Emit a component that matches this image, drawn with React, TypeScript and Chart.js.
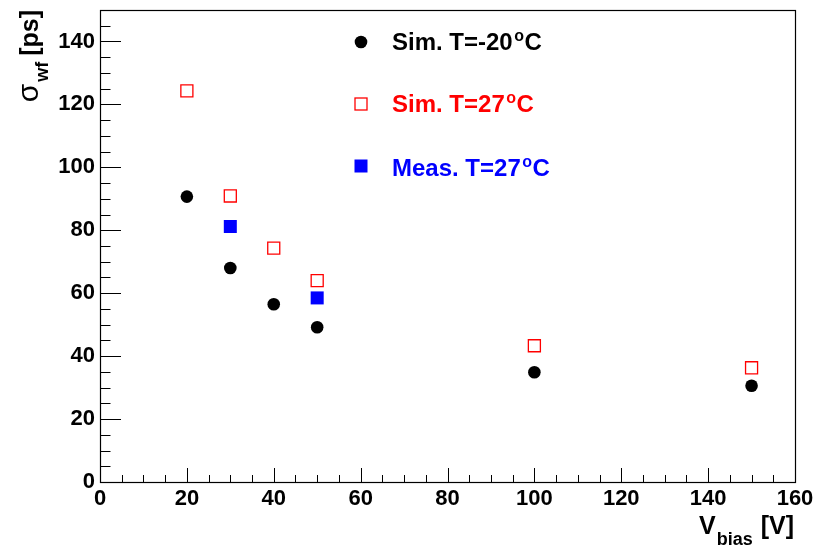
import React, { useEffect, useRef } from "react";
import { Chart, registerables } from "chart.js";

Chart.register(...registerables);

const vbias20 = [20, 30, 40, 50, 100, 150];
const simCold = [90.7, 68.0, 56.5, 49.2, 34.9, 30.6];
const vbias27 = [20, 30, 40, 50, 100, 150];
const simWarm = [124.3, 90.9, 74.3, 64.0, 43.3, 36.3];
const vbiasMeas = [30, 50];
const measWarm = [81.2, 58.5];

const xTicks = [0, 20, 40, 60, 80, 100, 120, 140, 160];
const yTicks = [0, 20, 40, 60, 80, 100, 120, 140];

const legendNames = ["Sim. T=-20", "Sim. T=27", "Meas. T=27"];
const legendColors = ["#000000", "#ff0000", "#0000ff"];

const FONT = "Liberation Sans, Arial, Helvetica, sans-serif";

const decorPlugin = {
  id: "rootDecor",
  afterDraw(chart: any) {
    const ctx = chart.ctx as CanvasRenderingContext2D;
    const area = chart.chartArea;
    const xs = chart.scales.x;
    const ys = chart.scales.y;
    ctx.save();
    // frame
    ctx.strokeStyle = "#000";
    ctx.lineWidth = 1.2;
    ctx.strokeRect(Math.round(area.left) + 0.5, Math.round(area.top) + 0.5,
      Math.round(area.right - area.left), Math.round(area.bottom - area.top));
    // ticks (inside)
    ctx.lineWidth = 1;
    ctx.beginPath();
    for (let v = xs.min; v <= xs.max + 1e-6; v += 5) {
      const px = Math.round(xs.getPixelForValue(v)) + 0.5;
      const len = v % 20 === 0 ? 14 : 7;
      ctx.moveTo(px, area.bottom);
      ctx.lineTo(px, area.bottom - len);
    }
    for (let v = ys.min; v <= ys.max + 1e-6; v += 5) {
      const py = Math.round(ys.getPixelForValue(v)) + 0.5;
      const len = v % 20 === 0 ? 21 : 10.5;
      ctx.moveTo(area.left, py);
      ctx.lineTo(area.left + len, py);
    }
    ctx.stroke();

    // y title: sigma_wf [ps], rotated
    ctx.fillStyle = "#000";
    ctx.textBaseline = "alphabetic";
    ctx.textAlign = "left";
    const mainFont = `bold 25px ${FONT}`;
    const subFont = `bold 18px ${FONT}`;
    ctx.font = mainFont;
    const wPs = ctx.measureText("[ps]").width;
    ctx.font = subFont;
    const wWf = ctx.measureText("wf").width;
    ctx.font = `30px ${FONT}`;
    const wSigma = ctx.measureText("σ").width;
    const yEnd = area.top;
    const psStart = yEnd + wPs;
    const wfStart = psStart + 6 + wWf;
    const sigStart = wfStart + 2 + wSigma;
    ctx.save();
    ctx.translate(38, 0);
    ctx.rotate(-Math.PI / 2);
    ctx.font = `30px ${FONT}`;
    ctx.fillText("σ", -sigStart, 0);
    ctx.font = subFont;
    ctx.fillText("wf", -wfStart, 10);
    ctx.font = mainFont;
    ctx.fillText("[ps]", -psStart, 0);
    ctx.restore();

    // x title: V_bias [V], end-anchored at right
    ctx.font = mainFont;
    const wV = ctx.measureText("V").width;
    const wBr = ctx.measureText("[V]").width;
    ctx.font = `bold 18px ${FONT}`;
    const wBias = ctx.measureText("bias").width;
    const xEnd = area.right - 1;
    const xStart = xEnd - (wV + wBias + 9 + wBr);
    ctx.font = mainFont;
    ctx.fillText("V", xStart, 534);
    ctx.font = `bold 18px ${FONT}`;
    ctx.fillText("bias", xStart + wV + 1, 545);
    ctx.font = mainFont;
    ctx.fillText("[V]", xEnd - wBr, 534);

    // legend
    const markerX = 361;
    const rows = [
      { cy: 42, base: 50, unit: "C" },
      { cy: 104, base: 112, unit: "C" },
      { cy: 166, base: 176, unit: "C" },
    ];
    rows.forEach((r, i) => {
      const col = legendColors[i];
      if (i === 0) {
        ctx.fillStyle = col;
        ctx.beginPath();
        ctx.arc(markerX, r.cy, 6.3, 0, Math.PI * 2);
        ctx.fill();
      } else if (i === 1) {
        ctx.strokeStyle = col;
        ctx.lineWidth = 1.3;
        ctx.strokeRect(markerX - 6, r.cy - 6, 12, 12);
      } else {
        ctx.fillStyle = col;
        ctx.fillRect(markerX - 6.5, r.cy - 6.5, 13, 13);
      }
      ctx.fillStyle = col;
      ctx.font = `bold 24px ${FONT}`;
      const tx = 392;
      ctx.fillText(legendNames[i], tx, r.base);
      const w1 = ctx.measureText(legendNames[i]).width;
      ctx.font = `bold 16px ${FONT}`;
      ctx.fillText("o", tx + w1 + 1.5, r.base - 9);
      const w2 = ctx.measureText("o").width;
      ctx.font = `bold 24px ${FONT}`;
      ctx.fillText(r.unit, tx + w1 + w2 + 2, r.base);
    });
    ctx.restore();
  },
};

function toPts(xs: number[], ys: number[]) {
  return xs.map((x, i) => ({ x, y: ys[i] }));
}

export default function App() {
  const ref = useRef<HTMLCanvasElement | null>(null);
  useEffect(() => {
    if (!ref.current) return;
    const chart = new Chart(ref.current, {
      type: "scatter",
      data: {
        datasets: [
          {
            label: "Sim. T=-20°C",
            data: toPts(vbias20, simCold),
            pointStyle: "circle",
            pointRadius: 6.3,
            backgroundColor: "#000000",
            borderColor: "#000000",
            borderWidth: 0,
          },
          {
            label: "Sim. T=27°C",
            data: toPts(vbias27, simWarm),
            pointStyle: "rect",
            pointRadius: 8.5,
            backgroundColor: "rgba(0,0,0,0)",
            borderColor: "#ff0000",
            borderWidth: 1.3,
          },
          {
            label: "Meas. T=27°C",
            data: toPts(vbiasMeas, measWarm),
            pointStyle: "rect",
            pointRadius: 9.2,
            backgroundColor: "#0000ff",
            borderColor: "#0000ff",
            borderWidth: 0,
          },
        ],
      },
      options: {
        responsive: false,
        animation: false,
        events: [],
        layout: { padding: { top: 10, right: 21, left: 0, bottom: 0 } },
        plugins: {
          legend: { display: false },
          tooltip: { enabled: false },
          title: { display: false },
        },
        scales: {
          x: {
            type: "linear",
            min: 0,
            max: 160,
            afterBuildTicks: (s: any) => {
              s.ticks = xTicks.map((v) => ({ value: v }));
            },
            afterFit: (s: any) => {
              s.height = 64;
              s.paddingLeft = 0;
              s.paddingRight = 0;
            },
            grid: { display: false, drawTicks: false },
            border: { display: false },
            ticks: {
              color: "#000",
              font: { family: FONT, size: 22, weight: "bold" },
              padding: 4,
              maxRotation: 0,
              autoSkip: false,
            },
          },
          y: {
            type: "linear",
            min: 0,
            max: 150,
            afterBuildTicks: (s: any) => {
              s.ticks = yTicks.map((v) => ({ value: v }));
            },
            afterFit: (s: any) => {
              s.width = 100;
              s.paddingTop = 0;
              s.paddingBottom = 0;
            },
            grid: { display: false, drawTicks: false },
            border: { display: false },
            ticks: {
              color: "#000",
              font: { family: FONT, size: 22, weight: "bold" },
              padding: 5,
              autoSkip: false,
            },
          },
        },
      },
      plugins: [decorPlugin],
    } as any);
    return () => chart.destroy();
  }, []);
  return (
    <div style={{ position: "fixed", left: 0, top: 0, width: 816, height: 546, background: "#fff" }}>
      <canvas ref={ref} width={816} height={546} style={{ display: "block" }} />
    </div>
  );
}
